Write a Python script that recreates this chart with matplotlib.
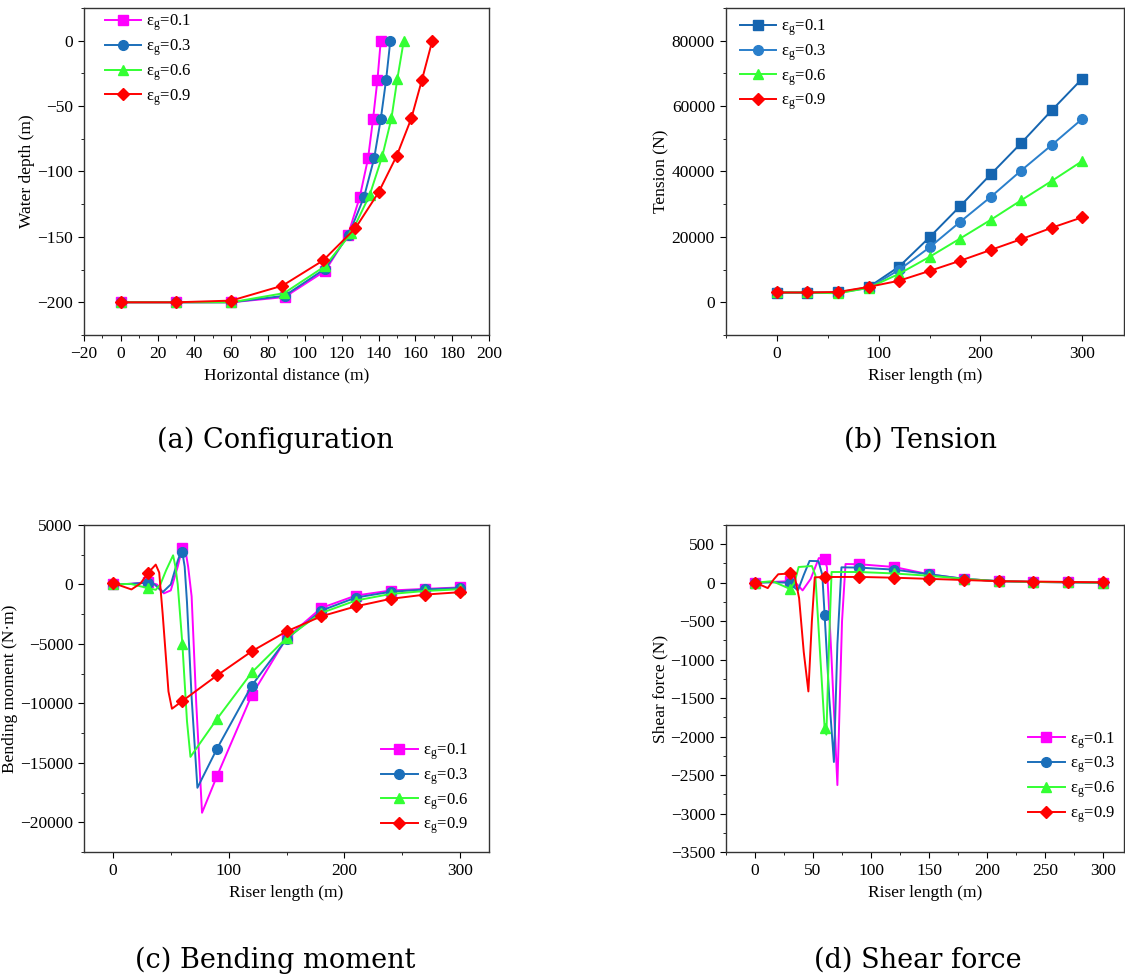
import numpy as np
import matplotlib
matplotlib.use("Agg")
import matplotlib.pyplot as plt
from matplotlib.ticker import MultipleLocator

plt.rcParams['font.family'] = ['Liberation Serif', 'DejaVu Serif']
plt.rcParams['mathtext.fontset'] = 'stix'
plt.rcParams['axes.unicode_minus'] = True

# ---- data ----
labels = ["ε$_\\mathregular{g}$=0.1", "ε$_\\mathregular{g}$=0.3",
          "ε$_\\mathregular{g}$=0.6", "ε$_\\mathregular{g}$=0.9"]
colors = ['#FF00FF', '#1B6FBA', '#33FF33', '#FF0000']
markers = ['s', 'o', '^', 'D']
nodes = [0, 30, 60, 90, 120, 150, 180, 210, 240, 270, 300]

# (a) configuration: horizontal distance / water depth at the nodes
cfg_x01 = [0, 30, 60, 89, 111, 123.4, 129.8, 134.3, 137, 139.4, 141.2]
cfg_y01 = [-200, -200, -200, -196, -176, -148.5, -119.5, -90, -60, -30, 0]
cfg_x03 = [0, 30, 60, 89, 110.8, 123.8, 132.1, 137.6, 141.2, 144.1, 146.4]
cfg_y03 = [-200, -200, -200, -195, -174.5, -148.5, -119.5, -90, -60, -30, 0]
cfg_x06 = [0, 30, 60, 88.7, 110.8, 125.2, 135.2, 142, 147, 150.2, 153.7]
cfg_y06 = [-200, -200, -200, -193, -172.5, -147, -118, -88.4, -59.4, -29.3, 0]
cfg_x09 = [0, 30, 60, 87.8, 109.9, 127.4, 140, 149.9, 157.8, 163.6, 169.2]
cfg_y09 = [-200, -200, -198.7, -187.3, -168, -143.4, -116, -87.9, -59.4, -29.8, 0]

# (b) tension at the nodes
ten_01 = [2960, 2960, 3000, 4600, 10900, 19900, 29400, 39100, 48700, 58700, 68400]
ten_03 = [3000, 3000, 2900, 4400, 9900, 16800, 24600, 32200, 40300, 48100, 56100]
ten_06 = [3000, 3000, 2750, 4400, 8700, 13900, 19500, 25200, 31200, 37100, 43200]
ten_09 = [3000, 3000, 3160, 4700, 6600, 9600, 12700, 16000, 19300, 22800, 26000]

# (c) bending moment: curve (markers sit on the nodes)
bm_x01 = [0, 15, 30, 38, 44, 50, 56, 60, 62, 65, 68, 72, 77, 90, 120, 150, 180, 210, 240, 270, 300]
bm_y01 = [0, 50, 200, 0, -750, -500, 1500, 3100, 3250, 1500, -1000, -10000, -19200, -16100,
          -9300, -4500, -1980, -930, -510, -370, -250]
bm_x03 = [0, 15, 30, 36, 43, 50, 56, 59, 60, 62, 64, 68, 73, 90, 120, 150, 180, 210, 240, 270, 300]
bm_y03 = [0, 50, 150, 0, -650, 0, 2000, 2800, 2700, 1500, -1500, -9500, -17100, -13800,
          -8500, -4600, -2200, -1100, -620, -420, -300]
bm_x06 = [0, 15, 30, 37, 41, 46, 52, 54, 56, 60, 64, 67, 90, 120, 150, 180, 210, 240, 270, 300]
bm_y06 = [0, 50, -300, -450, 0, 1200, 2450, 1500, 0, -5000, -11500, -14500, -11300,
          -7400, -4500, -2400, -1350, -800, -550, -400]
bm_x09 = [0, 8, 16, 24, 30, 37, 40, 43, 48, 51, 60, 90, 120, 150, 180, 210, 240, 270, 300]
bm_y09 = [140, -150, -420, 100, 930, 1670, 1000, -2500, -9000, -10450, -9800, -7650,
          -5620, -3950, -2680, -1840, -1210, -850, -650]

# (d) shear force: curve
sf_x01 = [0, 15, 30, 35, 41, 48, 55, 60, 62, 66, 71, 75, 78, 90, 120, 150, 180, 210, 240, 270, 300]
sf_y01 = [0, 10, 20, 0, -100, 50, 320, 310, 200, -1000, -2630, -500, 243, 240, 204, 109, 50,
          20, 10, 5, 0]
sf_x03 = [0, 15, 30, 33, 37, 42, 47, 54.7, 58, 60, 64, 68, 71, 74.5, 90, 120, 150, 180, 210,
          240, 270, 300]
sf_y03 = [0, 5, 0, -50, -100, 100, 283, 280, 100, -420, -1500, -2330, -800, 200, 196, 170,
          110, 50, 20, 10, 5, 0]
sf_x06 = [0, 15, 30, 34, 37.6, 49, 52, 56, 60, 61.5, 64, 66, 90, 120, 150, 180, 210, 240, 270, 300]
sf_y06 = [0, 20, -80, 0, 204, 217, 100, -900, -1890, -1975, -700, 139, 139, 120, 90, 50, 20,
          10, 5, 0]
sf_x09 = [0, 5, 11, 16, 20, 25, 30, 34, 38, 42, 46, 49, 51.5, 60, 90, 120, 150, 180, 210, 240,
          270, 300]
sf_y09 = [0, -30, -70, 40, 110, 115, 122, 100, -200, -900, -1413, -500, 70, 74, 75, 65, 50,
          35, 20, 15, 10, 5]

W, H = 1125, 980
fig = plt.figure(figsize=(W / 100, H / 100), dpi=100)


def box(l, t, r, b):
    return fig.add_axes([l / W, 1 - b / H, (r - l) / W, (b - t) / H])


def style(ax, xlabel, ylabel):
    for s in ax.spines.values():
        s.set_linewidth(1.0)
        s.set_color('#333333')
    ax.tick_params(which='both', direction='out', top=False, right=False, labelsize=12.5)
    ax.tick_params(which='major', length=4.5)
    ax.tick_params(which='minor', length=2.5)
    ax.set_xlabel(xlabel, fontsize=12.5)
    ax.set_ylabel(ylabel, fontsize=12.5, labelpad=1.5)


def draw(ax, x, y, i, mk=None, color=None):
    if mk is None:
        mk = [k for k, v in enumerate(x) if v in nodes]
    ms = 6.5 if markers[i] == 'D' else 7
    ax.plot(x, y, color=color or colors[i], lw=1.4, marker=markers[i], ms=ms,
            markevery=mk, label=labels[i])


def legend(ax, loc, anchor):
    ax.legend(loc=loc, bbox_to_anchor=anchor, frameon=False, fontsize=12,
              handlelength=2.2, labelspacing=0.25, handletextpad=0.3,
              borderpad=0.1, borderaxespad=0)


# (a) Configuration
ax = box(84, 8, 489, 335)
cfg = [(cfg_x01, cfg_y01), (cfg_x03, cfg_y03), (cfg_x06, cfg_y06), (cfg_x09, cfg_y09)]
for i, (x, y) in enumerate(cfg):
    draw(ax, x, y, i, mk=list(range(len(x))))
ax.set_xlim(-20, 200)
ax.set_ylim(-225, 25)
ax.xaxis.set_major_locator(MultipleLocator(20))
ax.xaxis.set_minor_locator(MultipleLocator(10))
ax.yaxis.set_major_locator(MultipleLocator(50))
ax.yaxis.set_minor_locator(MultipleLocator(25))
style(ax, "Horizontal distance (m)", "Water depth (m)")
legend(ax, 'upper left', (0.047, 0.991))

# (b) Tension
ax = box(726, 8, 1124, 335)
ten_colors = ['#1565B0', '#2A7FCB', colors[2], colors[3]]
for i, t in enumerate([ten_01, ten_03, ten_06, ten_09]):
    draw(ax, nodes, t, i, color=ten_colors[i])
ax.set_xlim(-50, 341)
ax.set_ylim(-10000, 90000)
ax.xaxis.set_major_locator(MultipleLocator(100))
ax.xaxis.set_minor_locator(MultipleLocator(50))
ax.yaxis.set_major_locator(MultipleLocator(20000))
ax.yaxis.set_minor_locator(MultipleLocator(10000))
style(ax, "Riser length (m)", "Tension (N)")
legend(ax, 'upper left', (0.03, 0.976))

# (c) Bending moment
ax = box(84, 525, 489, 852)
for i, (x, y) in enumerate([(bm_x01, bm_y01), (bm_x03, bm_y03), (bm_x06, bm_y06), (bm_x09, bm_y09)]):
    draw(ax, x, y, i)
ax.set_xlim(-25, 325)
ax.set_ylim(-22500, 5000)
ax.xaxis.set_major_locator(MultipleLocator(100))
ax.xaxis.set_minor_locator(MultipleLocator(50))
ax.yaxis.set_major_locator(MultipleLocator(5000))
ax.yaxis.set_minor_locator(MultipleLocator(2500))
style(ax, "Riser length (m)", "Bending moment (N·m)")
legend(ax, 'lower right', (0.953, 0.043))

# (d) Shear force
ax = box(726, 525, 1124, 852)
for i, (x, y) in enumerate([(sf_x01, sf_y01), (sf_x03, sf_y03), (sf_x06, sf_y06), (sf_x09, sf_y09)]):
    draw(ax, x, y, i)
ax.set_xlim(-25, 318)
ax.set_ylim(-3500, 750)
ax.xaxis.set_major_locator(MultipleLocator(50))
ax.xaxis.set_minor_locator(MultipleLocator(25))
ax.yaxis.set_major_locator(MultipleLocator(500))
ax.yaxis.set_minor_locator(MultipleLocator(250))
style(ax, "Riser length (m)", "Shear force (N)")
legend(ax, 'lower right', (0.982, 0.078))

titles = [("(a) Configuration", 275, 440), ("(b) Tension", 920, 440),
          ("(c) Bending moment", 275, 960), ("(d) Shear force", 918, 960)]
for s, x, y in titles:
    fig.text(x / W, 1 - y / H, s, ha='center', va='center', fontsize=19.5,
             family=['DejaVu Serif'])

fig.savefig("out.png", dpi=100)
